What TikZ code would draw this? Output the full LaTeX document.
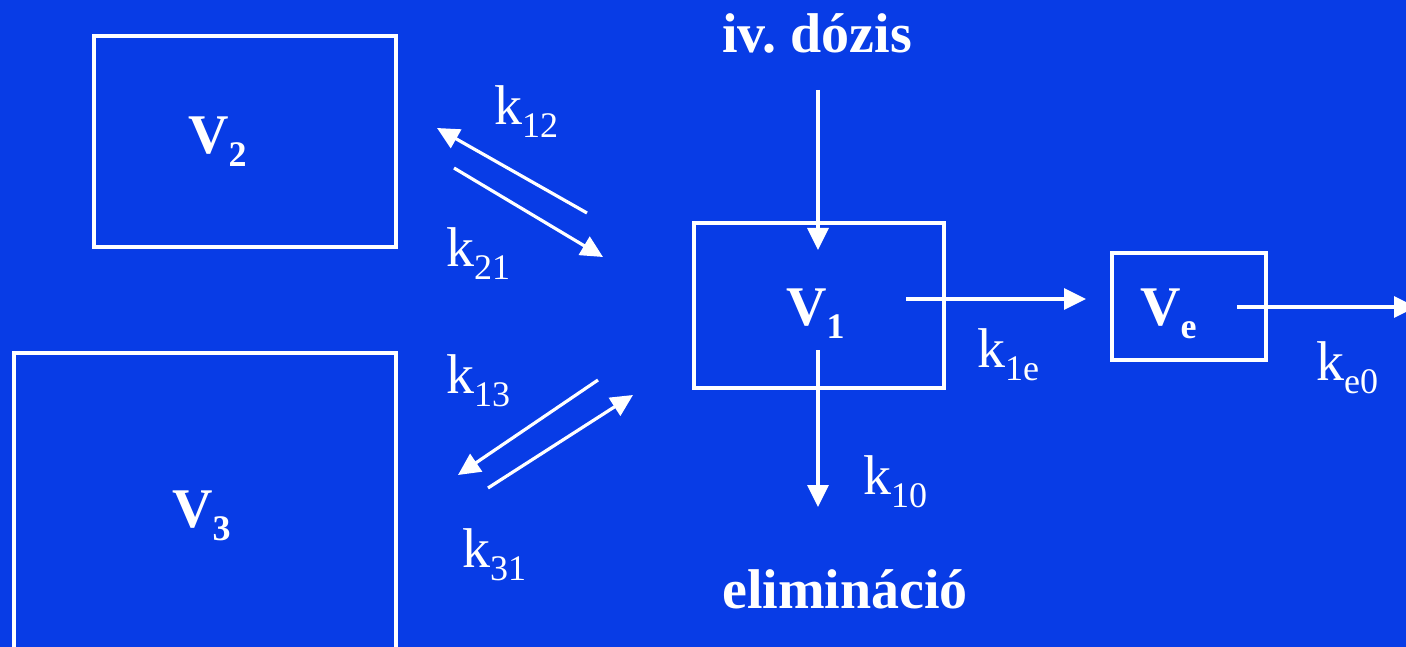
\documentclass[tikz,border=0pt]{standalone}
\usepackage{fontspec}
\setmainfont{Liberation Serif}
\usetikzlibrary{arrows.meta}
\definecolor{bgblue}{RGB}{8,60,230}
\newcommand\subx[1]{\raisebox{-13pt}{\fontsize{36}{36}\selectfont #1}}
\tikzset{
  box/.style={draw=white, line width=4pt, minimum width=#1, inner sep=0pt},
  lbl/.style={text=white, inner sep=0pt, anchor=base west, font=\fontsize{56}{60}\selectfont},
  blbl/.style={lbl, font=\fontsize{56}{60}\selectfont\bfseries},
  flow/.style={draw=white, line width=3.2pt, -{Triangle[length=22pt, width=21pt]}},
}
\begin{document}
\begin{tikzpicture}[x=1pt, y=-1pt]
\useasboundingbox (0,0) rectangle (1406,647);
\fill[bgblue] (0,0) rectangle (1406,647);
\begin{scope}
\clip (0,0) rectangle (1406,647);
% boxes
\node[box=302pt, minimum height=211pt] (V2) at (245,141.5) {};
\node[box=382pt, minimum height=296pt] (V3) at (205,501) {};
\node[box=250pt, minimum height=165pt] (V1) at (819,305.5) {};
\node[box=154pt, minimum height=107pt] (Ve) at (1189,306.5) {};
% labels
\node[blbl] (lV2) at (188,154) {V\subx{2}};
\node[blbl] (lV3) at (172,527) {V\subx{3}};
\node[blbl] (lV1) at (786,325) {V\subx{1}};
\node[blbl] (lVe) at (1140,325) {V\subx{e}};
\node[blbl] (dose) at (722,53) {iv.\ dózis};
\node[blbl] (elim) at (722,608) {eliminá\-ció};
\node[lbl] (k12) at (494,125) {k\subx{12}};
\node[lbl] (k21) at (446,267) {k\subx{21}};
\node[lbl] (k13) at (446,393) {k\subx{13}};
\node[lbl] (k31) at (462,567) {k\subx{31}};
\node[lbl] (k1e) at (977,367) {k\subx{1e}};
\node[lbl] (ke0) at (1316,380) {k\subx{e0}};
\node[lbl] (k10) at (863,494) {k\subx{10}};
% arrow end points
\coordinate (d0) at (818,90);
\coordinate (d1) at (818,250);
\coordinate (e0) at (818,350);
\coordinate (e1) at (818,507);
\coordinate (a0) at (906,299);
\coordinate (a1) at (1086,299);
\coordinate (b0) at (1237,307);
\coordinate (b1) at (1416,307);
\coordinate (p0) at (587,213);
\coordinate (p1) at (437,128);
\coordinate (q0) at (454,168);
\coordinate (q1) at (603,257);
\coordinate (r0) at (598,380);
\coordinate (r1) at (458,475);
\coordinate (s0) at (488,488);
\coordinate (s1) at (633,395);
% arrows
\draw[flow] (d0) -- (d1);
\draw[flow] (e0) -- (e1);
\draw[flow] (a0) -- (a1);
\draw[flow] (b0) -- (b1);
\draw[flow] (p0) -- (p1);
\draw[flow] (q0) -- (q1);
\draw[flow] (r0) -- (r1);
\draw[flow] (s0) -- (s1);
\end{scope}
\end{tikzpicture}
\end{document}
